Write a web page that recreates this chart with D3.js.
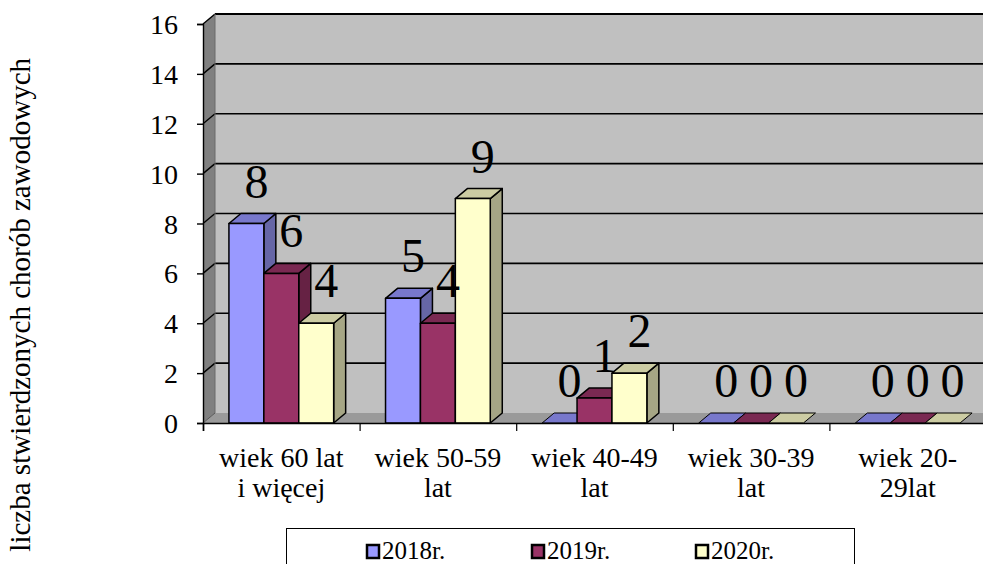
<!DOCTYPE html>
<html>
<head>
<meta charset="utf-8">
<script src="https://cdn.jsdelivr.net/npm/d3@7"></script>
<style>
  html, body { margin: 0; padding: 0; background: #fff; }
  svg { display: block; }
  svg text { font-family: "Liberation Serif", "Times New Roman", serif; }
</style>
</head>
<body>
<svg id="chart" width="983" height="564"></svg>
<script>
// ---- data ----
const categories = ["wiek 60 lat i więcej", "wiek 50-59 lat", "wiek 40-49 lat", "wiek 30-39 lat", "wiek 20-29lat"];
const categoryLines = [["wiek 60 lat", "i więcej"], ["wiek 50-59", "lat"], ["wiek 40-49", "lat"], ["wiek 30-39", "lat"], ["wiek 20-", "29lat"]];
const seriesNames = ["2018r.", "2019r.", "2020r."];
const values2018 = [8, 5, 0, 0, 0];
const values2019 = [6, 4, 1, 0, 0];
const values2020 = [4, 9, 2, 0, 0];
const yTicks = [0, 2, 4, 6, 8, 10, 12, 14, 16];
const yTitle = "liczba stwierdzonych chorób zawodowych";

(function () {
const FONT = "Liberation Serif";
const colors = [
  { front: "#9999FF", top: "#7878CC", side: "#6666A6" },
  { front: "#993366", top: "#7A2952", side: "#662244" },
  { front: "#FFFFCC", top: "#CCCCA3", side: "#A6A685" }
];
const series = [values2018, values2019, values2020];

const svg = d3.select("#chart").attr("font-family", FONT);
const plotLeft = 203, plotBottom = 423, plotTop = 24;
const catW = 156.6;
const DX = 12, DY = -10;

const y = d3.scaleLinear().domain([0, 16]).range([plotBottom, plotTop]);
const x = d3.scaleBand().domain(categories).range([plotLeft, plotLeft + catW * 5]).padding(0);
const xEdge = d3.scaleLinear().domain([0, 5]).range([plotLeft, plotLeft + catW * 5]);
const groupPad = x.bandwidth() * 52 / 157 / 2;
const xInner = d3.scaleBand().domain(seriesNames).range([0, x.bandwidth() - 2 * groupPad]).padding(0);

const plotRight = 1000;
svg.append("path")
  .attr("d", `M${plotLeft},${plotBottom} L${plotLeft},${y(16)} L${plotLeft + DX},${y(16) + DY} L${plotLeft + DX},${plotBottom + DY} Z`)
  .attr("fill", "#808080");
svg.append("rect")
  .attr("x", plotLeft + DX).attr("y", y(16) + DY)
  .attr("width", plotRight - plotLeft).attr("height", y(0) - y(16))
  .attr("fill", "#C0C0C0");
svg.append("path")
  .attr("d", `M${plotLeft},${plotBottom} L${plotLeft + DX},${plotBottom + DY} L${plotRight},${plotBottom + DY} L${plotRight},${plotBottom} Z`)
  .attr("fill", "#9A9A9A");

const grid = svg.append("g");
yTicks.forEach(v => {
  const yy = y(v);
  if (v > 0) {
    grid.append("line").attr("x1", plotLeft + DX).attr("x2", plotRight)
      .attr("y1", yy + DY).attr("y2", yy + DY)
      .attr("stroke", "#000").attr("stroke-width", v === 16 ? 2.2 : 1.6);
  }
  grid.append("line").attr("x1", plotLeft).attr("x2", plotLeft + DX)
    .attr("y1", yy).attr("y2", yy + DY)
    .attr("stroke", v === 0 ? "#555" : "#000").attr("stroke-width", v === 0 ? 1 : 1.4);
});
svg.append("line").attr("x1", plotLeft + DX).attr("x2", plotLeft + DX)
  .attr("y1", y(16) + DY).attr("y2", plotBottom + DY)
  .attr("stroke", "#6a6a6a").attr("stroke-width", 1);

const barsG = svg.append("g");
categories.forEach((c, ci) => {
  seriesNames.forEach((s, si) => {
    const v = series[si][ci];
    const x0 = x(c) + groupPad + xInner(s);
    const x1 = x0 + xInner.bandwidth();
    const yt = y(v), yb = y(0);
    const col = colors[si];
    const g = barsG.append("g").attr("stroke", "#000").attr("stroke-width", 1.5).attr("stroke-linejoin", "round");
    if (v > 0) {
      g.append("path").attr("fill", col.side)
        .attr("d", `M${x1},${yt} L${x1 + DX},${yt + DY} L${x1 + DX},${yb + DY} L${x1},${yb} Z`);
      g.append("path").attr("fill", col.top)
        .attr("d", `M${x0},${yt} L${x0 + DX},${yt + DY} L${x1 + DX},${yt + DY} L${x1},${yt} Z`);
      g.append("rect").attr("fill", col.front)
        .attr("x", x0).attr("y", yt).attr("width", x1 - x0).attr("height", yb - yt);
    } else {
      g.append("path").attr("fill", col.top).attr("stroke-width", 1)
        .attr("d", `M${x0},${yb} L${x0 + DX},${yb + DY} L${x1 + DX},${yb + DY} L${x1},${yb} Z`);
    }
  });
});

const labG = svg.append("g").attr("font-family", FONT).attr("font-size", 48).attr("text-anchor", "middle").attr("fill", "#000");
categories.forEach((c, ci) => {
  seriesNames.forEach((s, si) => {
    const v = series[si][ci];
    const cx = x(c) + groupPad + xInner(s) + xInner.bandwidth() / 2;
    labG.append("text").attr("x", cx + 10).attr("y", y(v) - 26).text(v);
  });
});

const yAxis = d3.axisLeft(y).tickValues(yTicks).tickSize(6).tickPadding(19).tickFormat(d3.format("d"));
const ya = svg.append("g").attr("transform", `translate(${plotLeft},0)`).call(yAxis)
  .attr("font-family", FONT).attr("font-size", 28);
ya.select(".domain").attr("stroke", "#000").attr("stroke-width", 1.4);
ya.selectAll(".tick line").attr("stroke", "#000").attr("stroke-width", 1.4);
ya.selectAll(".tick text").attr("fill", "#000").attr("dy", "0.34em");

const xAxis = d3.axisBottom(xEdge).tickValues([0, 1, 2, 3, 4, 5]).tickSize(8).tickFormat("");
const xa = svg.append("g").attr("transform", `translate(0,${plotBottom})`).call(xAxis);
xa.select(".domain").attr("stroke", "#000").attr("stroke-width", 1.6);
xa.selectAll(".tick line").attr("stroke", "#000").attr("stroke-width", 1.2);

const catG = svg.append("g").attr("font-family", FONT).attr("font-size", 28).attr("text-anchor", "middle").attr("fill", "#000");
categories.forEach((c, ci) => {
  const t = catG.append("text").attr("x", x(c) + x.bandwidth() / 2).attr("y", 467);
  categoryLines[ci].forEach((line, li) => {
    t.append("tspan").attr("x", x(c) + x.bandwidth() / 2).attr("dy", li === 0 ? 0 : 30).text(line);
  });
});

svg.append("text")
  .attr("transform", "translate(30,58) rotate(-90)")
  .attr("text-anchor", "end")
  .attr("font-family", FONT)
  .attr("font-size", 29)
  .attr("fill", "#000")
  .text(yTitle);

const lg = svg.append("g");
lg.append("rect").attr("x", 286.5).attr("y", 528.5).attr("width", 568).attr("height", 60)
  .attr("fill", "#fff").attr("stroke", "#000").attr("stroke-width", 1);
const legendX = [366, 531, 695];
seriesNames.forEach((s, i) => {
  lg.append("rect").attr("x", legendX[i] + 1).attr("y", 545).attr("width", 12).attr("height", 13)
    .attr("fill", colors[i].front).attr("stroke", "#000").attr("stroke-width", 2.5);
  lg.append("text").attr("x", legendX[i] + 16).attr("y", 559).attr("font-family", FONT)
    .attr("font-size", 25).attr("fill", "#000").text(s);
});
})();
</script>
</body>
</html>
